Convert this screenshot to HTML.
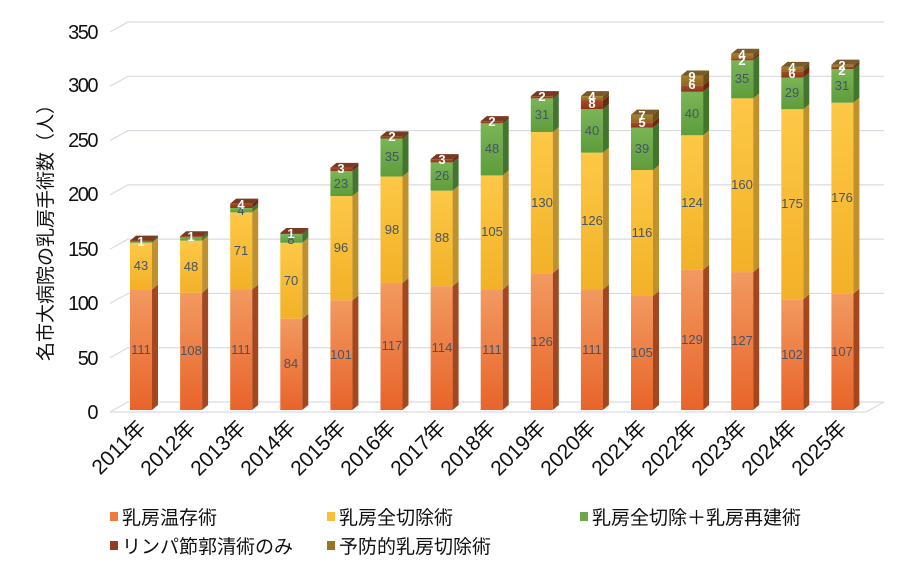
<!DOCTYPE html>
<html><head><meta charset="utf-8"><style>
body{margin:0;background:#fff;}
svg{display:block;}
text{font-family:"Liberation Sans","Noto Sans CJK JP",sans-serif;}
.t{font-size:20px;fill:#111;letter-spacing:-1.5px;text-anchor:end;}
.xl{font-size:21px;fill:#111;text-anchor:end;letter-spacing:0px;}
.v{font-size:13px;fill:#44546a;text-anchor:middle;}
.w{font-size:13px;fill:#fff;text-anchor:middle;font-weight:bold;}
.lg{font-size:19px;fill:#111;}
</style></head><body>
<svg id="s" width="914" height="564" viewBox="0 0 914 564" xmlns="http://www.w3.org/2000/svg">
<defs>
<linearGradient id="g0" x1="0" y1="0" x2="0" y2="1"><stop offset="0" stop-color="#f29a60"/><stop offset="1" stop-color="#e8642a"/></linearGradient>
<linearGradient id="g1" x1="0" y1="0" x2="0" y2="1"><stop offset="0" stop-color="#fdc846"/><stop offset="1" stop-color="#f2b128"/></linearGradient>
<linearGradient id="g2" x1="0" y1="0" x2="0" y2="1"><stop offset="0" stop-color="#7ab556"/><stop offset="1" stop-color="#5e9c3c"/></linearGradient>
<linearGradient id="g3" x1="0" y1="0" x2="0" y2="1"><stop offset="0" stop-color="#a84a28"/><stop offset="1" stop-color="#8e3518"/></linearGradient>
<linearGradient id="g4" x1="0" y1="0" x2="0" y2="1"><stop offset="0" stop-color="#a88030"/><stop offset="1" stop-color="#8c6820"/></linearGradient>
</defs>
<g id="grid" stroke="#d9dbe3" stroke-width="1.2" fill="none"></g>
<g id="bars"></g>
<g>
<text class="t" x="97" y="39">350</text>
<text class="t" x="97" y="92">300</text>
<text class="t" x="97" y="147">250</text>
<text class="t" x="97" y="201">200</text>
<text class="t" x="97" y="256">150</text>
<text class="t" x="97" y="310">100</text>
<text class="t" x="97" y="365">50</text>
<text class="t" x="97" y="419">0</text>
</g>
<text transform="translate(52,228) rotate(-90)" text-anchor="middle" style="font-size:19px;fill:#111">名市大病院の乳房手術数（人）</text>
<g>
<text class="xl" transform="translate(147,429) rotate(-45)">2011年</text>
<text class="xl" transform="translate(197,429) rotate(-45)">2012年</text>
<text class="xl" transform="translate(247,429) rotate(-45)">2013年</text>
<text class="xl" transform="translate(297,429) rotate(-45)">2014年</text>
<text class="xl" transform="translate(347,429) rotate(-45)">2015年</text>
<text class="xl" transform="translate(397,429) rotate(-45)">2016年</text>
<text class="xl" transform="translate(447,429) rotate(-45)">2017年</text>
<text class="xl" transform="translate(497,429) rotate(-45)">2018年</text>
<text class="xl" transform="translate(547,429) rotate(-45)">2019年</text>
<text class="xl" transform="translate(597,429) rotate(-45)">2020年</text>
<text class="xl" transform="translate(648,429) rotate(-45)">2021年</text>
<text class="xl" transform="translate(698,429) rotate(-45)">2022年</text>
<text class="xl" transform="translate(748,429) rotate(-45)">2023年</text>
<text class="xl" transform="translate(798,429) rotate(-45)">2024年</text>
<text class="xl" transform="translate(848,429) rotate(-45)">2025年</text>
</g>
<g>
<text class="v" x="141" y="354">111</text><text class="v" x="141" y="270">43</text><text class="w" x="141" y="246">1</text>
<text class="v" x="191" y="355">108</text><text class="v" x="191" y="271">48</text><text class="w" x="191" y="241">1</text>
<text class="v" x="241" y="354">111</text><text class="v" x="241" y="255">71</text><text class="v" x="241" y="215">4</text><text class="w" x="241" y="209">4</text>
<text class="v" x="291" y="368">84</text><text class="v" x="291" y="285">70</text><text class="v" x="291" y="244">8</text><text class="w" x="291" y="238">1</text>
<text class="v" x="341" y="359">101</text><text class="v" x="341" y="252">96</text><text class="v" x="341" y="188">23</text><text class="w" x="341" y="173">3</text>
<text class="v" x="392" y="350">117</text><text class="v" x="392" y="234">98</text><text class="v" x="392" y="161">35</text><text class="w" x="392" y="141">2</text>
<text class="v" x="442" y="352">114</text><text class="v" x="442" y="242">88</text><text class="v" x="442" y="180">26</text><text class="w" x="442" y="164">3</text>
<text class="v" x="492" y="354">111</text><text class="v" x="492" y="236">105</text><text class="v" x="492" y="153">48</text><text class="w" x="492" y="126">2</text>
<text class="v" x="542" y="346">126</text><text class="v" x="542" y="207">130</text><text class="v" x="542" y="119">31</text><text class="w" x="542" y="101">2</text>
<text class="v" x="592" y="354">111</text><text class="v" x="592" y="225">126</text><text class="v" x="592" y="135">40</text><text class="w" x="592" y="101">4</text><text class="w" x="592" y="108">8</text>
<text class="v" x="642" y="357">105</text><text class="v" x="642" y="237">116</text><text class="v" x="642" y="153">39</text><text class="w" x="642" y="120">7</text><text class="w" x="642" y="127">5</text>
<text class="v" x="692" y="344">129</text><text class="v" x="692" y="207">124</text><text class="v" x="692" y="118">40</text><text class="w" x="692" y="81">9</text><text class="w" x="692" y="89">6</text>
<text class="v" x="742" y="345">127</text><text class="v" x="742" y="189">160</text><text class="v" x="742" y="83">35</text><text class="w" x="742" y="59">4</text><text class="w" x="742" y="65">2</text>
<text class="v" x="792" y="359">102</text><text class="v" x="792" y="208">175</text><text class="v" x="792" y="97">29</text><text class="w" x="792" y="72">4</text><text class="w" x="792" y="78">6</text>
<text class="v" x="842" y="356">107</text><text class="v" x="842" y="202">176</text><text class="v" x="842" y="90">31</text><text class="w" x="842" y="70">2</text><text class="w" x="842" y="75">2</text>
</g>
<g>
<rect x="110" y="512" width="8" height="9" fill="#ec7a3c"/><text class="lg" x="122" y="524">乳房温存術</text>
<rect x="327" y="512" width="8" height="9" fill="#fbbf36"/><text class="lg" x="339" y="524">乳房全切除術</text>
<rect x="580" y="512" width="8" height="9" fill="#6aa84a"/><text class="lg" x="592" y="524">乳房全切除＋乳房再建術</text>
<rect x="110" y="541" width="8" height="9" fill="#9a3a1c"/><text class="lg" x="122" y="553">リンパ節郭清術のみ</text>
<rect x="327" y="541" width="8" height="9" fill="#9a7424"/><text class="lg" x="339" y="553">予防的乳房切除術</text>
</g>
<script>
(function(){
var ns="http://www.w3.org/2000/svg";
function el(p,t,a){var e=document.createElementNS(ns,t);for(var k in a)e.setAttribute(k,a[k]);p.appendChild(e);return e;}
var grid=document.getElementById('grid');
for(var v=0;v<=350;v+=50){var yf=412-v*1.0857,yb=402-v*1.0857;
el(grid,'polyline',{points:"110,"+yf+" 128,"+yb+" 884,"+yb});}
el(grid,'line',{x1:110,y1:412,x2:866,y2:412});
el(grid,'line',{x1:866,y1:412,x2:884,y2:402});
var data=[[111,43,1,1,0],[108,48,3,1,0],[111,71,4,4,0],[84,70,8,1,0],[101,96,23,3,0],[117,98,35,2,0],[114,88,26,3,0],[111,105,48,2,0],[126,130,31,2,0],[111,126,40,8,4],[105,116,39,5,7],[129,124,40,6,9],[127,160,35,2,4],[102,175,29,6,4],[107,176,31,2,2]];
var side=["#a4471f","#c0902c","#44752e","#6e2812","#6c501a"];
var top=["#f4a878","#fdd680","#9ccc7c","#7a3a22","#7a5a28"];
var bars=document.getElementById('bars');
var k=1.086,b=410,dx=6,dy=5,w=11;
data.forEach(function(d,i){var cx=141+50.1*i,cum=0;
d.forEach(function(v,s){if(!v)return;var y1=b-cum*k,y2=b-(cum+v)*k;cum+=v;
el(bars,'rect',{x:cx-w,y:y2,width:2*w,height:y1-y2,fill:"url(#g"+s+")"});
el(bars,'polygon',{points:(cx+w)+","+y1+" "+(cx+w+dx)+","+(y1-dy)+" "+(cx+w+dx)+","+(y2-dy)+" "+(cx+w)+","+y2,fill:side[s]});});
var yt=b-cum*k;var last=d[4]?4:3;
el(bars,'polygon',{points:(cx-w)+","+yt+" "+(cx+w)+","+yt+" "+(cx+w+dx)+","+(yt-dy)+" "+(cx-w+dx)+","+(yt-dy),fill:top[last]});
});
})();
</script>
</svg>
</body></html>
